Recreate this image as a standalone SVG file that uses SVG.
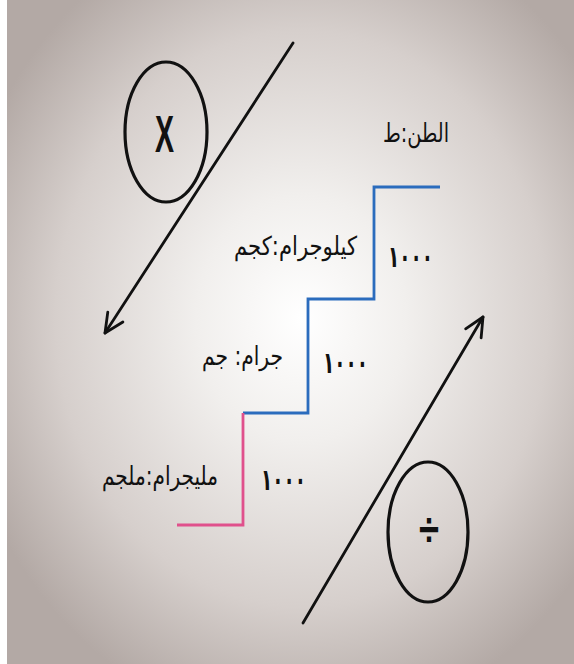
<svg xmlns="http://www.w3.org/2000/svg" width="574" height="664" viewBox="0 0 574 664">
<defs>
<radialGradient id="bg" cx="0.52" cy="0.48" r="0.62">
<stop offset="0" stop-color="#ffffff"/>
<stop offset="0.3" stop-color="#f1efed"/>
<stop offset="0.7" stop-color="#d6cfcc"/>
<stop offset="1" stop-color="#b3a9a5"/>
</radialGradient>
<marker id="head" markerUnits="userSpaceOnUse" viewBox="-24 -13 27 26" markerWidth="27" markerHeight="26" refX="0" refY="0" orient="auto">
<path d="M-19,-9 L0,0 L-19,9" fill="none" stroke="#111" stroke-width="2.8" stroke-linecap="round" stroke-linejoin="round"/>
</marker>
<style>
.ar{font-family:"DejaVu Sans","Noto Sans",sans-serif;font-size:26px;fill:#111}
.num{font-family:"DejaVu Sans","Noto Sans",sans-serif;font-size:30px;fill:#111;font-weight:bold}
.ring{fill:none;stroke:#111;stroke-width:3.2}
.arrow{fill:none;stroke:#111;stroke-width:2.8;stroke-linecap:round}
.blue{fill:none;stroke:#2b6cbd;stroke-width:2.8}
.pink{fill:none;stroke:#e0508c;stroke-width:2.8}
.sym{font-family:"Liberation Sans",Arial,sans-serif;font-weight:bold;fill:#111}
</style>
</defs>
<rect x="0" y="0" width="574" height="664" fill="#ffffff"/>
<rect x="7" y="0" width="567" height="664" fill="url(#bg)"/>

<g id="connectors">
<line class="arrow" x1="293" y1="43" x2="105" y2="333" marker-end="url(#head)"/>
<line class="arrow" x1="303" y1="623" x2="483" y2="317" marker-end="url(#head)"/>
<polyline class="blue" points="440,187 374,187 374,299 308,299 308,413 243,413"/>
<polyline class="pink" points="243,413 243,525 177,525"/>
</g>

<g id="multiply">
<ellipse class="ring" cx="166" cy="132" rx="41" ry="70"/>
<text class="sym" x="155" y="152" font-size="52" textLength="19" lengthAdjust="spacingAndGlyphs">X</text>
</g>

<g id="divide">
<ellipse class="ring" cx="428" cy="532" rx="40" ry="70"/>
<text class="sym" x="419" y="546" font-size="48" textLength="20" lengthAdjust="spacingAndGlyphs">÷</text>
</g>

<g id="ton">
<text class="ar" x="383" y="142" textLength="66" lengthAdjust="spacingAndGlyphs">الطن:ط</text>
</g>
<g id="kilogram">
<text class="ar" x="234" y="255" textLength="123" lengthAdjust="spacingAndGlyphs">كيلوجرام:كجم</text>
<text class="num" x="388" y="267" textLength="45" lengthAdjust="spacingAndGlyphs">١٠٠٠</text>
</g>
<g id="gram">
<text class="ar" x="202" y="365" textLength="81" lengthAdjust="spacingAndGlyphs">جرام: جم</text>
<text class="num" x="323" y="373" textLength="45" lengthAdjust="spacingAndGlyphs">١٠٠٠</text>
</g>
<g id="milligram">
<text class="ar" x="102" y="485" textLength="116" lengthAdjust="spacingAndGlyphs">مليجرام:ملجم</text>
<text class="num" x="261" y="490" textLength="45" lengthAdjust="spacingAndGlyphs">١٠٠٠</text>
</g>
</svg>
